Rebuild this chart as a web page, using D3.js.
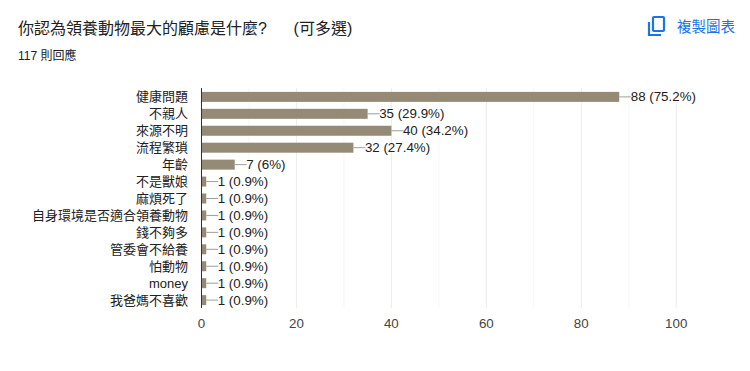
<!DOCTYPE html>
<html>
<head>
<meta charset="utf-8">
<script src="https://cdn.jsdelivr.net/npm/d3@7"></script>
<style>
body { margin: 0; background: #fff; overflow: hidden; }
text { font-family: "Liberation Sans", Arial, "Noto Sans CJK TC", sans-serif; white-space: pre; }
</style>
</head>
<body>
<script>
const categories = ['健康問題', '不親人', '來源不明', '流程繁瑣', '年齡', '不是獸娘', '麻煩死了',
    '自身環境是否適合領養動物', '錢不夠多', '管委會不給養', '怕動物', 'money', '我爸媽不喜歡'];
const counts = [88, 35, 40, 32, 7, 1, 1, 1, 1, 1, 1, 1, 1];
const percents = ['75.2%', '29.9%', '34.2%', '27.4%', '6%', '0.9%', '0.9%', '0.9%', '0.9%', '0.9%', '0.9%', '0.9%', '0.9%'];
const major_ticks = [0, 20, 40, 60, 80, 100];
const minor_ticks = [10, 30, 50, 70, 90];

const svg = d3.select('body').append('svg').attr('width', 750).attr('height', 371);

const x_scale = d3.scaleLinear().domain([0, 100]).range([201.5, 676.2]);
const y_scale = d3.scaleBand().domain(categories).range([88.5, 308.5]).paddingInner(0.41).paddingOuter(0.2);
const top_y = 88, bottom_y = 308;

// Title block
svg.append('text').attr('x', 18).attr('y', 34).attr('font-size', 16).attr('fill', '#212121')
    .text('你認為領養動物最大的顧慮是什麼?      (可多選)');
svg.append('text').attr('x', 18).attr('y', 60).attr('font-size', 12).attr('fill', '#212121')
    .text('117 則回應');

// Copy button
const copy_icon = svg.append('g').attr('transform', 'translate(644,13)')
    .attr('fill', 'none').attr('stroke', '#1a73e8').attr('stroke-width', 2.2);
copy_icon.append('rect').attr('x', 9).attr('y', 4).attr('width', 11).attr('height', 14).attr('rx', 1);
copy_icon.append('path').attr('d', 'M5 9V22H17');
svg.append('text').attr('x', 677).attr('y', 32).attr('font-size', 14.5).attr('fill', '#1a73e8')
    .text('複製圖表');

// Gridlines
svg.append('g').selectAll('line').data(minor_ticks).join('line')
    .attr('x1', d => x_scale(d)).attr('x2', d => x_scale(d))
    .attr('y1', top_y).attr('y2', bottom_y).attr('stroke', '#f6f6f6');
svg.append('g').selectAll('line').data(major_ticks.slice(1)).join('line')
    .attr('x1', d => x_scale(d)).attr('x2', d => x_scale(d))
    .attr('y1', top_y).attr('y2', bottom_y).attr('stroke', '#ececec');

// Bars
svg.append('g').selectAll('rect').data(categories).join('rect')
    .attr('x', x_scale(0))
    .attr('y', d => y_scale(d))
    .attr('width', (d, i) => x_scale(counts[i]) - x_scale(0))
    .attr('height', y_scale.bandwidth())
    .attr('fill', '#948a75');

// Leader lines and value labels
const mid_y = d => y_scale(d) + y_scale.bandwidth() / 2;
svg.append('g').selectAll('line').data(categories).join('line')
    .attr('x1', (d, i) => x_scale(counts[i]))
    .attr('x2', (d, i) => x_scale(counts[i]) + 12)
    .attr('y1', mid_y).attr('y2', mid_y)
    .attr('stroke', '#9e9e9e');
svg.append('g').selectAll('text').data(categories).join('text')
    .attr('x', (d, i) => x_scale(counts[i]) + 11.5)
    .attr('y', d => mid_y(d) + 4.5)
    .attr('font-size', 13.33).attr('fill', '#212121')
    .text((d, i) => `${counts[i]} (${percents[i]})`);

// Category labels
svg.append('g').selectAll('text').data(categories).join('text')
    .attr('x', 188).attr('y', d => mid_y(d) + 4.5)
    .attr('text-anchor', 'end').attr('font-size', 13).attr('fill', '#212121')
    .text(d => d);

// Axis line and x tick labels
svg.append('line').attr('x1', x_scale(0)).attr('x2', x_scale(0))
    .attr('y1', top_y).attr('y2', bottom_y).attr('stroke', '#333');
svg.append('g').selectAll('text').data(major_ticks).join('text')
    .attr('x', d => x_scale(d)).attr('y', 328)
    .attr('text-anchor', 'middle').attr('font-size', 13.33).attr('fill', '#444')
    .text(d => d);
</script>
</body>
</html>
